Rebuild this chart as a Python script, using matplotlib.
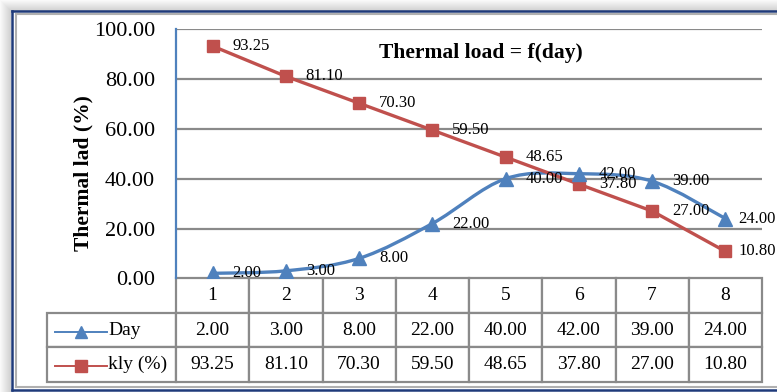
import numpy as np
import matplotlib.pyplot as plt
from matplotlib.path import Path
from matplotlib.patches import PathPatch
from matplotlib.lines import Line2D

plt.rcParams['font.family'] = ['Liberation Serif', 'DejaVu Serif']

days = [1, 2, 3, 4, 5, 6, 7, 8]
day_vals = [2.00, 3.00, 8.00, 22.00, 40.00, 42.00, 39.00, 24.00]
kly_vals = [93.25, 81.10, 70.30, 59.50, 48.65, 37.80, 27.00, 10.80]
series_names = ['Day', 'kly (%)']
yticks = [0, 20, 40, 60, 80, 100]

BLUE = '#4F81BD'
RED = '#C0504D'
GRID = '#8A8A8A'

W, H = 777, 392
fig = plt.figure(figsize=(W / 100, H / 100), dpi=100)

# background: shadow on top/left edges plus the double frame
bg = fig.add_axes([0, 0, 1, 1], zorder=-10)
img = np.ones((H, W, 3))
for i in range(11):
    shade = 0.82 + 0.16 * (1 - i / 10)
    img[i, i:, :] = np.minimum(img[i, i:, :], shade)
    img[i:, i, :] = np.minimum(img[i:, i, :], shade)
bg.imshow(img, extent=(0, W, H, 0), aspect='auto')
bg.plot([12, W], [10.5, 10.5], color='#1F3A7A', lw=1.8)
bg.plot([12, 12], [10.5, 389.5], color='#1F3A7A', lw=1.8)
bg.plot([12, W], [389.5, 389.5], color='#1F3A7A', lw=1.8)
bg.plot([15.5, W], [14, 14], color='#B0B0B0', lw=1.5)
bg.plot([15.5, 15.5], [14, 386.5], color='#B0B0B0', lw=1.5)
bg.plot([15.5, W], [386.5, 386.5], color='#B0B0B0', lw=1.5)
bg.set_xlim(0, W)
bg.set_ylim(H, 0)
bg.axis('off')

# plot area in pixels
left, right, top, bottom = 176, 762, 29.3, 278.3
ax = fig.add_axes([left / W, 1 - bottom / H, (right - left) / W, (bottom - top) / H])
ax.set_xlim(0.5, 8.5)
ax.set_ylim(0, 100)
ax.set_yticks(yticks)
ax.set_yticklabels([f'{v:.2f}' for v in yticks], fontsize=16)
ax.tick_params(axis='y', length=0, pad=15)
ax.set_xticks([])
for s in ['top', 'right', 'bottom']:
    ax.spines[s].set_visible(False)
ax.spines['left'].set_color(BLUE)
ax.spines['left'].set_linewidth(1.6)
for v in yticks[1:]:
    ax.axhline(v, color=GRID, lw=1.6, zorder=1)

# smoothed blue line (bezier segments, Excel style)
pts = np.column_stack([days, day_vals])
verts = [pts[0]]
codes = [Path.MOVETO]
for i in range(len(pts) - 1):
    p0 = pts[max(i - 1, 0)]
    p1 = pts[i]
    p2 = pts[i + 1]
    p3 = pts[min(i + 2, len(pts) - 1)]
    c1 = p1 + (p2 - p0) / 6
    c2 = p2 - (p3 - p1) / 6
    verts += [c1, c2, p2]
    codes += [Path.CURVE4] * 3
ax.add_patch(PathPatch(Path(verts, codes), fill=False, edgecolor=BLUE, lw=2.4, zorder=3))
ax.plot(days, day_vals, ls='none', marker='^', ms=10, color=BLUE, zorder=4)

ax.plot(days, kly_vals, color=RED, lw=2.4, marker='s', ms=9, zorder=3)

# value labels to the right of each point (last column sits tighter)
for vals in (day_vals, kly_vals):
    for i, (x, v) in enumerate(zip(days, vals)):
        dx = 13 if i == len(days) - 1 else 20
        ax.annotate(f'{v:.2f}', (x, v), xytext=(dx, 0), textcoords='offset pixels',
                    ha='left', va='center', fontsize=12, zorder=5,
                    annotation_clip=False)

ax.text(0.52, 0.905, 'Thermal load = f(day)', transform=ax.transAxes,
        ha='center', va='center', fontsize=15.5, fontweight='bold')

fig.text(83 / W, 1 - 173 / H, 'Thermal lad (%)', rotation=90, ha='center', va='center',
         fontsize=15.5, fontweight='bold')

# data table under the axis; first column holds the series names
tab_left, tab_bottom = 47, 382
ax_w, ax_h = right - left, bottom - top
cell_text = [[series_names[0]] + [f'{v:.2f}' for v in day_vals],
             [series_names[1]] + [f'{v:.2f}' for v in kly_vals]]
col_w = [(left - tab_left) / (ax_w / 8)] + [1] * 8
tab = ax.table(cellText=cell_text, colLabels=[''] + [str(d) for d in days],
               cellLoc='center', colWidths=col_w,
               bbox=[(tab_left - left) / ax_w, -(tab_bottom - bottom) / ax_h,
                     (right - tab_left) / ax_w, (tab_bottom - bottom) / ax_h])
tab.auto_set_font_size(False)
tab.set_fontsize(14)
for (r, c), cell in tab.get_celld().items():
    cell.set_edgecolor(GRID)
    cell.set_linewidth(1.6)
    if c == 0:
        if r == 0:
            cell.visible_edges = ''
        else:
            cell.get_text().set_horizontalalignment('left')
            cell.PAD = (108 - tab_left) / (left - tab_left)

# legend keys inside the row label cells
def to_fig(px, py):
    return px / W, 1 - py / H

row_mid = [(315 + 349) / 2, (349 + 382) / 2]
for ym, col, mk, ms in [(row_mid[0], BLUE, '^', 9), (row_mid[1], RED, 's', 8)]:
    x0, y0 = to_fig(55, ym)
    x1, _ = to_fig(107, ym)
    xm, _ = to_fig(81, ym)
    fig.add_artist(Line2D([x0, x1], [y0, y0], color=col, lw=1.4))
    fig.add_artist(Line2D([xm], [y0], color=col, marker=mk, ms=ms))

fig.savefig('out.png', dpi=100)
